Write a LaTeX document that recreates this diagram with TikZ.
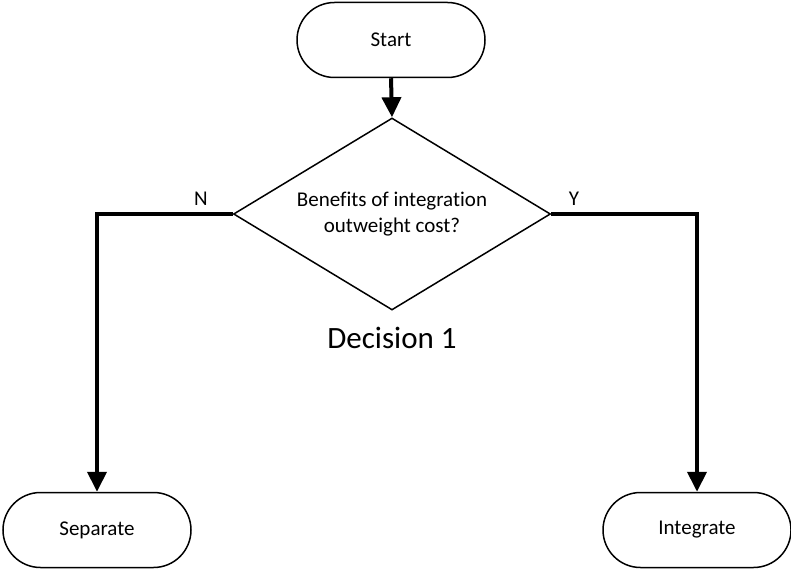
\documentclass[tikz,border=0pt]{standalone}
\usepackage{fontspec}
\setmainfont{Carlito}[Ligatures=NoCommon]
\usetikzlibrary{shapes.geometric,arrows.meta}
\begin{document}
\begin{tikzpicture}[x=1pt,y=-1pt,
  terminal/.style={draw,line width=1.5pt,rectangle,rounded corners=37.5pt,
    minimum width=188pt,minimum height=75pt,inner sep=0pt,
    font=\fontsize{21}{25}\selectfont},
  decision/.style={draw,line width=1.5pt,diamond,aspect=1.65,inner sep=0pt,
    minimum width=317pt,minimum height=192pt,align=center,
    font=\fontsize{21}{26}\selectfont},
  flow/.style={line width=4pt,-{Triangle[width=19pt,length=20pt]}},
  branch/.style={font=\fontsize{21}{25}\selectfont},
  caption/.style={font=\fontsize{31}{37}\selectfont}]
  \useasboundingbox (0,0) rectangle (791,569);

  % terminals and the decision
  \node[terminal] (start) at (391,40) {Start};
  \node[decision] (dec) at (392,214) {Benefits of integration\\outweight cost?};
  \node[terminal] (sep) at (97,530) {Separate};
  \node[terminal] (int) at (697,530) {Integrate};

  % labels
  \node[branch] (nlab) at (201,199) {N};
  \node[branch] (ylab) at (574,199) {Y};
  \node[caption] (cap) at (392,338) {Decision 1};

  % connectors
  \draw[flow] (start.south) -- (dec.north);
  \draw[flow] (dec.west) -| (sep.north);
  \draw[flow] (dec.east) -| (int.north);
\end{tikzpicture}
\end{document}
